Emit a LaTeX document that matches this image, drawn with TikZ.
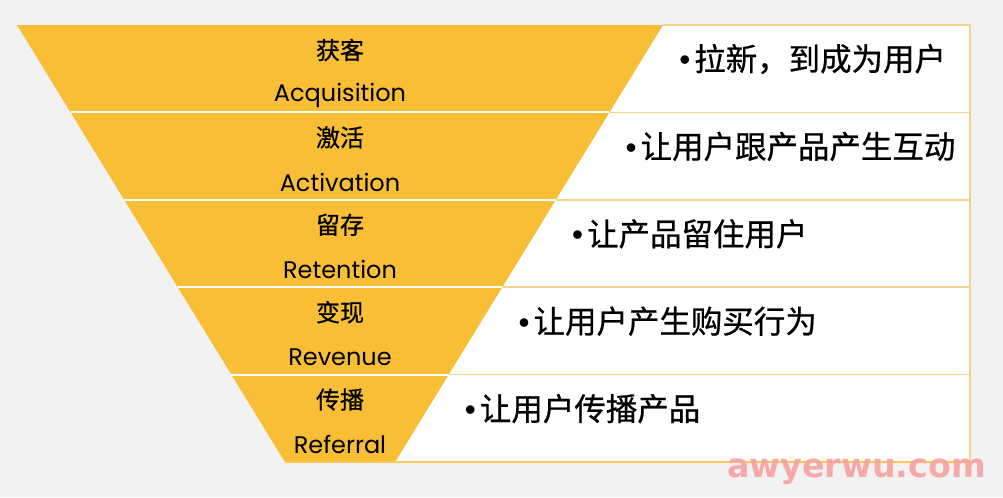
\documentclass[tikz,border=0pt]{standalone}
\usepackage{fontspec}
\newfontfamily\cjk[FakeBold=0.7]{Noto Sans CJK SC}
\newfontfamily\geo{Poppins}
\newfontfamily\wmfont{DejaVu Sans}
\newfontfamily\dotfont{Liberation Sans}
\usetikzlibrary{positioning}
\definecolor{funnel}{HTML}{F8BF36}
\definecolor{rule}{HTML}{F4D48C}
\definecolor{paper}{HTML}{F2F2F2}
\definecolor{stamp}{HTML}{F7A2A2}
\newcommand{\pt}{{\dotfont\textbullet}\hspace{3pt}}

\begin{document}
\begin{tikzpicture}
      [ x=0.75pt, y=-0.75pt
      , cnlabel/.style={font=\cjk\fontsize{18}{18}\selectfont}
      , enlabel/.style={font=\geo\fontsize{18}{18}\selectfont}
      , note/.style={anchor=west, inner sep=0pt, font=\cjk\fontsize{23.6}{24}\selectfont}
      , sep/.style={white, line width=1.5}
      , rowline/.style={rule, line width=1.2}
      ]
    \fill[paper] (0,0) rectangle (1003,497);
    \useasboundingbox (0,0) rectangle (1003,497);

    % white side and funnel
    \fill[white] (663,25) -- (970,25) -- (970,462) -- (395.1,462) -- cycle;
    \fill[funnel] (17,25) -- (663,25) -- (395.1,462) -- (284.9,462) -- cycle;

    \draw[sep]
    (70.6,112.4) -- (609.4,112.4)
    (124.1,199.8) -- (555.9,199.8)
    (177.7,287.2) -- (502.3,287.2)
    (231.3,374.6) -- (448.7,374.6);

    \draw[rowline]
    (663,25) -- (970,25) -- (970,462)
    (609.4,112.4) -- (970,112.4)
    (555.9,199.8) -- (970,199.8)
    (502.3,287.2) -- (970,287.2)
    (448.7,374.6) -- (970,374.6);
    \draw[funnel!85, line width=1.5] (284.9,462) -- (970.6,462);

    \node[cnlabel] (AQ) at (340,50) {获客};
    \node[enlabel] (AQe) at (340,95) {Acquisition};
    \node[cnlabel] (AC) at (340,137.4) {激活};
    \node[enlabel] (ACe) at (340,182.4) {Activation};
    \node[cnlabel] (RT) at (340,224.8) {留存};
    \node[enlabel] (RTe) at (340,269.8) {Retention};
    \node[cnlabel] (RV) at (340,312.2) {变现};
    \node[enlabel] (RVe) at (340,357.2) {Revenue};
    \node[cnlabel] (RF) at (340,399.6) {传播};
    \node[enlabel] (RFe) at (340,444.6) {Referral};

    \node[note] (AQn) at (679,59) {\pt 拉新，到成为用户};
    \node[note] (ACn) at (625.4,146.4) {\pt 让用户跟产品产生互动};
    \node[note] (RTn) at (571.9,233.8) {\pt 让产品留住用户};
    \node[note] (RVn) at (518.3,321.2) {\pt 让用户产生购买行为};
    \node[note] (RFn) at (464.7,408.6) {\pt 让用户传播产品};

    \node[anchor=base west, inner sep=0pt, stamp, opacity=0.9,
          font=\wmfont\bfseries\fontsize{25}{25}\selectfont]
      (WM) at (727,477) {awyerwu.com};
\end{tikzpicture}
\end{document}
